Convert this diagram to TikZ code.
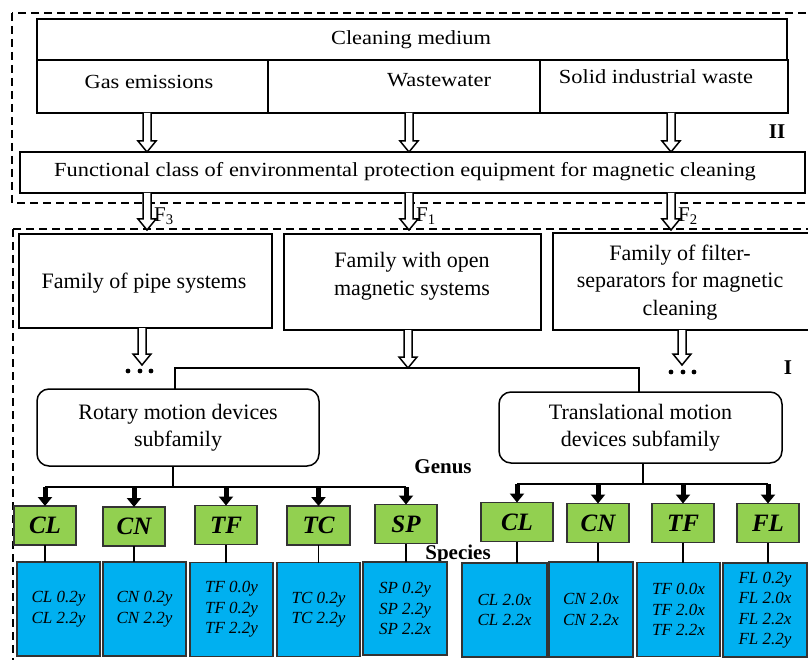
\documentclass[tikz,border=0pt]{standalone}
\usepackage{fontspec}
\setmainfont{Liberation Serif}
\newfontfamily\widefont{Liberation Serif}[FakeStretch=1.12]
\usetikzlibrary{calc,arrows.meta}
\definecolor{genus}{HTML}{92D050}
\definecolor{species}{HTML}{00B0F0}
\newcommand\hollow[2]{%
  \draw[line width=1.5pt, fill=white] let \p1=#1, \p2=#2 in
    ({\x1-4pt},{\y1}) -- ({\x1-4pt},{\y2+11pt}) -- ({\x1-9pt},{\y2+11pt}) -- ({\x1},{\y2})
    -- ({\x1+9pt},{\y2+11pt}) -- ({\x1+4pt},{\y2+11pt}) -- ({\x1+4pt},{\y1});}
\tikzset{
  box/.style={draw, line width=1.5pt, rectangle, inner sep=0pt, outer sep=0pt},
  rbox/.style={box, rounded corners=12pt},
  dbox/.style={draw, line width=2.4pt, dash pattern=on 8pt off 5pt},
  toptxt/.style={inner sep=0pt, font=\widefont\fontsize{20}{24}\selectfont},
  famtxt/.style={inner sep=0pt, align=center, font=\fontsize{22}{27.5}\selectfont},
  gbox/.style={draw=black!80, line width=1.1pt, fill=genus, inner sep=0pt, outer sep=0pt,
    minimum width=62pt, minimum height=39pt, font=\fontsize{25}{27}\selectfont\bfseries\itshape},
  bbox/.style={draw=black!80, line width=1.1pt, fill=species, inner sep=0pt, outer sep=0pt,
    minimum width=83pt, minimum height=94pt, align=center, font=\fontsize{17}{20.5}\selectfont\itshape},
  link/.style={line width=1.5pt},
  tarrow/.style={line width=5pt, -{Triangle[length=9pt,width=14pt]}},
  lbl/.style={inner sep=0pt, font=\fontsize{21}{24}\selectfont\bfseries},
  flbl/.style={inner sep=0pt, anchor=west, font=\fontsize{21}{24}\selectfont},
}
\begin{document}
\begin{tikzpicture}[x=1pt,y=-1pt]
\useasboundingbox (0,0) rectangle (808,660);
\fill[white] (0,0) rectangle (808,660);
\clip (0,0) rectangle (808,660);

% dashed frames
\draw[dbox] (12,13) rectangle (830,203);
\draw[dbox] (13,229) rectangle (830,690);

% top section
\node[box, minimum width=750pt, minimum height=41pt] (medium) at (412,39.5) {};
\node[box, minimum width=231pt, minimum height=53pt] (gas) at (152.5,86.5) {};
\node[box, minimum width=272pt, minimum height=53pt] (water) at (404,86.5) {};
\node[box, minimum width=248pt, minimum height=53pt] (solid) at (664,86.5) {};
\node[box, minimum width=785pt, minimum height=41pt] (func) at (412.5,172.5) {};
\node[toptxt] (tmedium) at (411,40) {Cleaning medium};
\node[toptxt] (tgas) at (149,82) {Gas emissions};
\node[toptxt] (twater) at (439,80) {Wastewater};
\node[toptxt] (tsolid) at (656,77) {Solid industrial waste};
\node[toptxt] (tfunc) at (405,172) {Functional class of environmental protection equipment for magnetic cleaning};
\node[lbl] (II) at (777,132) {II};

\coordinate (ax1) at (147,0);
\coordinate (ax2) at (409,0);
\coordinate (ax3) at (671,0);
\hollow{(gas.south -| ax1)}{(func.north -| ax1)}
\hollow{(water.south -| ax2)}{(func.north -| ax2)}
\hollow{(solid.south -| ax3)}{(func.north -| ax3)}

% F arrows
\coordinate (f3end) at (147,230);
\coordinate (f1end) at (409,230);
\coordinate (f2end) at (671,230);
\hollow{(func.south -| f3end)}{(f3end)}
\hollow{(func.south -| f1end)}{(f1end)}
\hollow{(func.south -| f2end)}{(f2end)}
\node[flbl] (F3) at (154,216) {F\textsubscript{3}};
\node[flbl] (F1) at (416,216) {F\textsubscript{1}};
\node[flbl] (F2) at (678,216) {F\textsubscript{2}};

% families
\node[box, minimum width=253pt, minimum height=94pt] (pipe) at (145.5,281) {};
\node[box, minimum width=257pt, minimum height=96pt] (open) at (412.5,282) {};
\node[box, minimum width=277pt, minimum height=97pt] (filter) at (691.5,281.5) {};
\node[famtxt] (tpipe) at (144,283) {Family of pipe systems};
\node[famtxt] (topen) at (412,276) {Family with open\\magnetic systems};
\node[famtxt] (tfilter) at (680,282.5) {Family of filter-\\separators for magnetic\\cleaning};
\node[lbl] (I) at (788,368) {I};

\coordinate (d1) at (142,365);
\coordinate (hub) at (408,368);
\coordinate (d3) at (682,365);
\hollow{(pipe.south -| d1)}{(d1)}
\hollow{(open.south -| hub)}{(hub)}
\hollow{(filter.south -| d3)}{(d3)}
\foreach \xx in {128,140,151} \fill (\xx,371) circle[radius=2.4pt];
\foreach \xx in {671,683,694} \fill (\xx,372) circle[radius=2.4pt];

% subfamilies
\node[rbox, minimum width=282pt, minimum height=77pt, align=center,
  font=\fontsize{22}{27}\selectfont] (rot) at (178,427.5) {Rotary motion devices\\subfamily};
\node[rbox, minimum width=283pt, minimum height=71pt, align=center,
  font=\fontsize{22}{26.5}\selectfont] (tra) at (640.5,427.5) {Translational motion\\devices subfamily};
\draw[link] (rot.north -| 175,0) |- (hub) -| (tra.north -| 639,0);

% genus labels
\node[lbl] (genus) at (443,467) {Genus};
\node[lbl] (species) at (458,554) {Species};

% rotary genus
\node[gbox] (g1) at (45,525.5) {CL};
\node[gbox] (g2) at (134,526.5) {CN};
\node[gbox] (g3) at (226,525) {TF};
\node[gbox, minimum width=63pt] (g4) at (318.5,525.5) {TC};
\node[gbox] (g5) at (406,524) {SP};
% translational genus
\node[gbox, minimum width=72pt] (h1) at (517,522) {CL};
\node[gbox] (h2) at (598,523) {CN};
\node[gbox] (h3) at (683,523) {TF};
\node[gbox] (h4) at (768,523) {FL};

\coordinate (rbus) at (173,487);
\draw[link] (rot.south -| rbus) -- (rbus);
\draw[link] (g1.north |- rbus) -- (g5.north |- rbus);
\foreach \g in {g1,g2,g3,g4,g5} \draw[tarrow] (\g.north |- rbus) -- (\g.north);
\coordinate (tbus) at (643,484);
\draw[link] (tra.south -| tbus) -- (tbus);
\draw[link] (h1.north |- tbus) -- (h4.north |- tbus);
\foreach \g in {h1,h2,h3,h4} \draw[tarrow] (\g.north |- tbus) -- (\g.north);

% species
\node[bbox] (b1) at (58.5,609) {CL 0.2y\\CL 2.2y};
\node[bbox] (b2) at (144.5,609) {CN 0.2y\\CN 2.2y};
\node[bbox] (b3) at (231.5,609.5) {TF 0.0y\\TF 0.2y\\TF 2.2y};
\node[bbox] (b4) at (318.5,609.5) {TC 0.2y\\TC 2.2y};
\node[bbox, minimum width=84pt, minimum height=93pt] (b5) at (405,608.5) {SP 0.2y\\SP 2.2y\\SP 2.2x};
\node[bbox, minimum width=85pt] (c1) at (504.5,610) {CL 2.0x\\CL 2.2x};
\node[bbox, minimum width=84pt, minimum height=95pt] (c2) at (591,609.5) {CN 2.0x\\CN 2.2x};
\node[bbox] (c3) at (678.5,609.5) {TF 0.0x\\TF 2.0x\\TF 2.2x};
\node[bbox, minimum width=84pt] (c4) at (765,610) {FL 0.2y\\FL 2.0x\\FL 2.2x\\FL 2.2y};

\foreach \g/\b in {g1/b1,g2/b2,g3/b3,g4/b4,g5/b5,h1/c1,h2/c2,h3/c3,h4/c4}
  \draw[link] (\g.south) -- (\g.south |- \b.north);
\end{tikzpicture}
\end{document}
